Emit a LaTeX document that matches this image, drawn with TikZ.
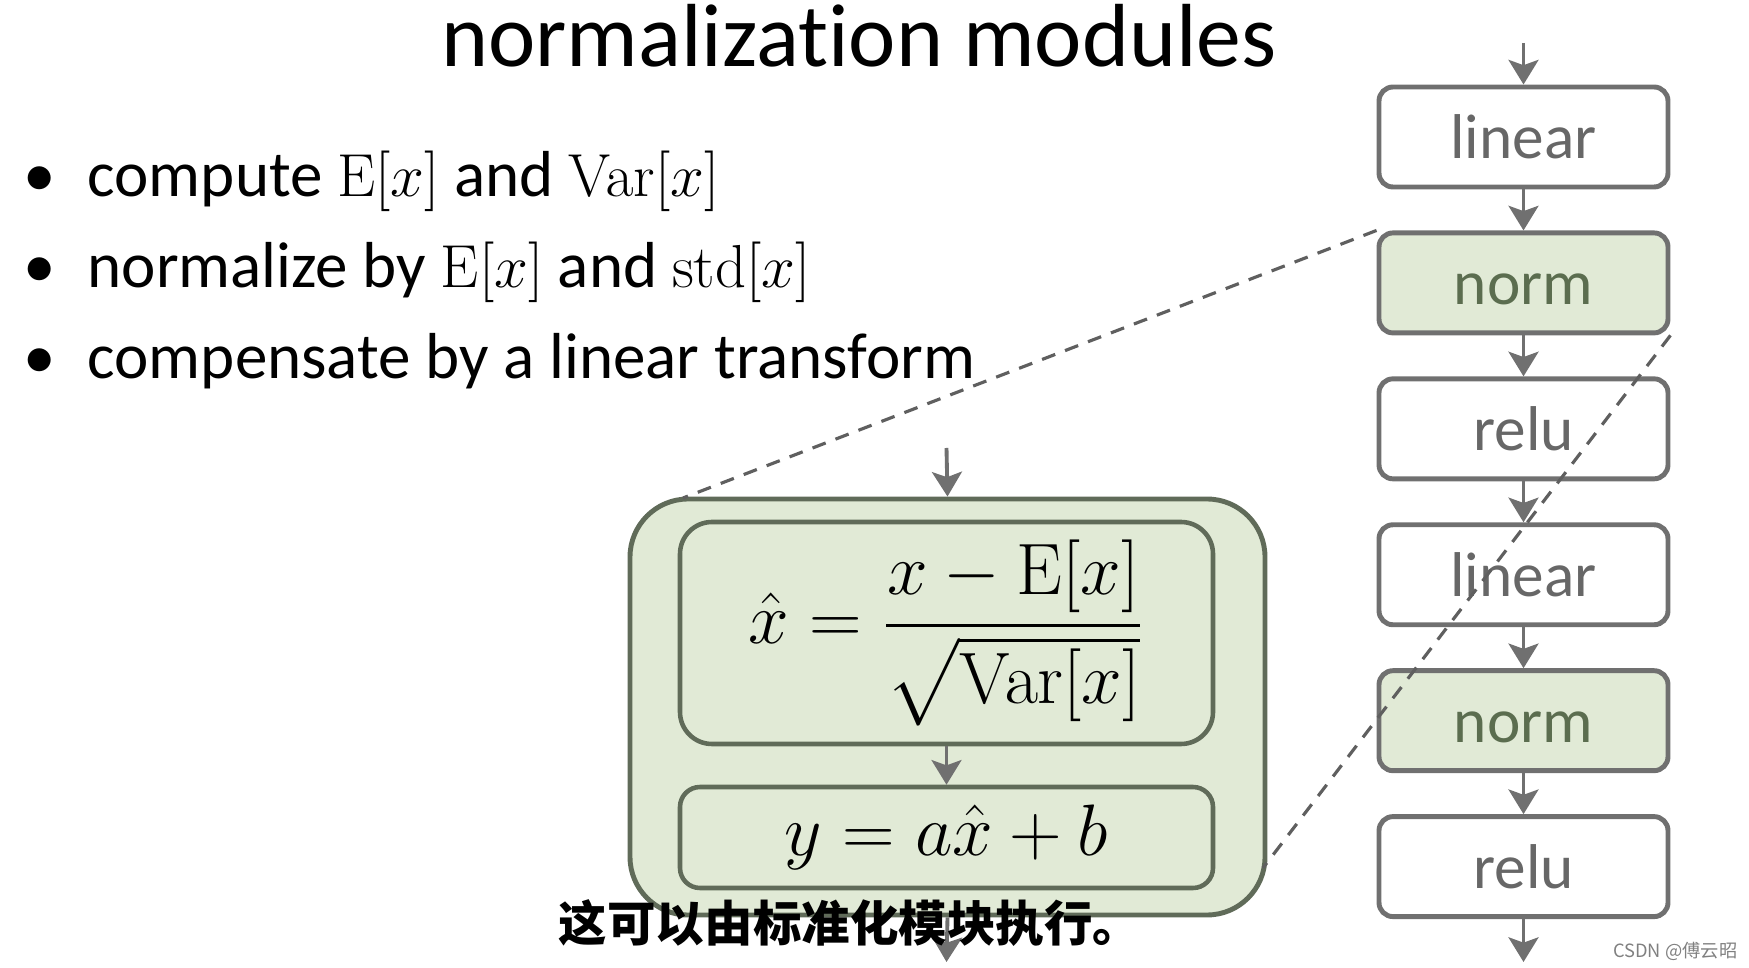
\documentclass[tikz,border=0pt]{standalone}
\usepackage{amsmath}
\usepackage[no-math]{fontspec}
\setmainfont{Carlito}[Ligatures=NoCommon]
\newfontfamily\cjk{Noto Sans CJK SC}
\usepackage{xcolor}
\usepackage{tikz}
\usetikzlibrary{positioning,arrows.meta}
\definecolor{linegray}{HTML}{707070}
\definecolor{labelgray}{HTML}{676767}
\definecolor{normfill}{HTML}{E1EAD6}
\definecolor{normtext}{HTML}{5B6D4F}
\definecolor{normline}{HTML}{606B59}
\tikzset{
	layer/.style = {draw=linegray, line width=1.4pt, rounded corners=0.14cm, minimum width=2.89cm, minimum height=1.0cm, text=labelgray, text height=12.5pt, text depth=0pt, font=\fontsize{18}{20}\selectfont},
	normlayer/.style = {layer, fill=normfill, text=normtext},
	flow/.style = {draw=linegray, line width=1.1pt, -{Stealth[length=7pt,width=8.5pt,inset=1.5pt]}},
	zoomline/.style = {draw=linegray!85!black, line width=0.9pt, dash pattern=on 4pt off 3pt},
	bulletline/.style = {anchor=base west, inner sep=0pt, font=\fontsize{18.5}{22}\selectfont},
	formbox/.style = {draw=normline, line width=1.3pt, fill=normfill, minimum width=5.33cm, font=\fontsize{20}{24}\selectfont}
}
\newcommand{\dotitem}{\makebox[0pt][r]{\textbullet\hspace{0.32cm}}}

\begin{document}
\begin{tikzpicture}
		\useasboundingbox (0,0) rectangle (17.49,-9.68);
	
		\node[anchor=base, font=\fontsize{25.5}{30}\selectfont] (title) at (8.59cm,-0.67cm) {normalization modules};
	
		\node[bulletline] (item1) at (0.87cm,-1.97cm) {\dotitem compute $\mathrm{E}[x]$ and $\mathrm{Var}[x]$};
		\node[bulletline] (item2) at (0.87cm,-2.88cm) {\dotitem normalize by $\mathrm{E}[x]$ and $\mathrm{std}[x]$};
		\node[bulletline] (item3) at (0.87cm,-3.79cm) {\dotitem compensate by a linear transform};
	
		\node[layer] (lin1) at (15.235cm,-1.37cm) {linear};
		\node[normlayer, below=0.41cm of lin1] (norm1) {norm};
		\node[layer, below=0.41cm of norm1] (relu1) {relu};
		\node[layer, below=0.41cm of relu1] (lin2) {linear};
		\node[normlayer, below=0.41cm of lin2] (norm2) {norm};
		\node[layer, below=0.41cm of norm2] (relu2) {relu};
		\coordinate (in) at (15.235cm,-0.43cm);
		\coordinate (out) at (15.235cm,-9.62cm);
		\draw[flow] (in) -- (lin1.north);
		\draw[flow] (lin1) -- (norm1);
		\draw[flow] (norm1) -- (relu1);
		\draw[flow] (relu1) -- (lin2);
		\draw[flow] (lin2) -- (norm2);
		\draw[flow] (norm2) -- (relu2);
		\draw[flow] (relu2.south) -- (out);
	
		\node[draw=normline, line width=1.4pt, fill=normfill, rounded corners=0.58cm, minimum width=6.35cm, minimum height=4.16cm] (big) at (9.475cm,-7.07cm) {};
		\node[formbox, rounded corners=0.32cm, minimum height=2.22cm] (fbox) at (9.465cm,-6.33cm) {$\hat{x} = \dfrac{x-\mathrm{E}[x]}{\sqrt{\mathrm{Var}[x]}}$};
		\node[formbox, rounded corners=0.2cm, minimum height=1.01cm] (ybox) at (9.465cm,-8.375cm) {$y = a\hat{x} + b$};
		\coordinate (bigin) at (9.465cm,-4.48cm);
		\coordinate (bigout) at (9.465cm,-9.62cm);
		\draw[flow] (bigin) -- (big.north);
		\draw[flow] (fbox) -- (ybox);
		\draw[flow] (big.south) -- (bigout);
	
		\coordinate (zoomtop) at (6.83cm,-4.98cm);
		\coordinate (zoombot) at (12.63cm,-8.68cm);
		\draw[zoomline] (norm1.north west) -- (zoomtop);
		\draw[zoomline] (norm1.south east) -- (zoombot);
	
		\node[font=\cjk\bfseries\fontsize{13.8}{16}\selectfont] (subtitle) at (8.5cm,-9.23cm) {这可以由标准化模块执行。};
		\node[anchor=east, text=gray, inner sep=0pt, font=\cjk\fontsize{5.2}{6}\selectfont] (mark) at (17.38cm,-9.51cm) {CSDN @傅云昭};
	\end{tikzpicture}
\end{document}
